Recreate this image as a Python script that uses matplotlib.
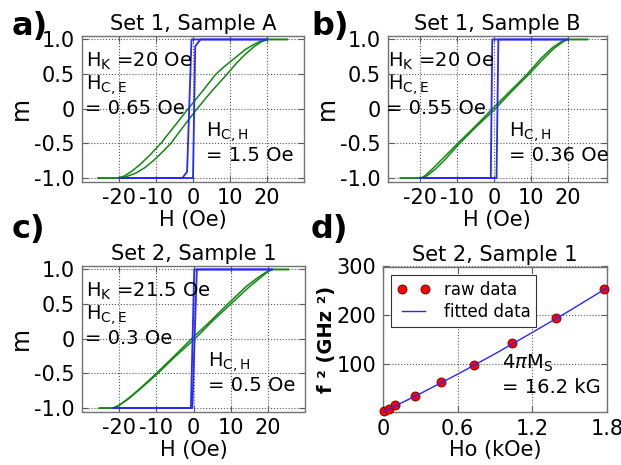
import matplotlib
matplotlib.use("Agg")
import matplotlib.pyplot as plt

plt.rcParams['font.family'] = ['DejaVu Sans']
plt.rcParams['mathtext.fontset'] = 'dejavusans'

# ---------------- data ----------------
titles = ["Set 1, Sample A", "Set 1, Sample B", "Set 2, Sample 1", "Set 2, Sample 1"]
panel_labels = ["a)", "b)", "c)", "d)"]

# Panel a (hard axis loop: green, easy axis loop: blue)
a_green_dn_H = [25.5, 20.3, 18.5, 16.5, 14.0, 11.5, 8.7, 6.2, 2.5, -1.3, -5.0, -8.7, -11.5, -14.0, -16.5, -18.5, -20.3, -25.6]
a_green_dn_m = [1.0, 1.0, 0.98, 0.93, 0.85, 0.74, 0.62, 0.5, 0.25, 0.0, -0.25, -0.5, -0.66, -0.79, -0.9, -0.97, -1.0, -1.0]
a_green_up_H = [-25.6, -20.3, -18.0, -15.5, -13.0, -10.5, -8.2, -6.0, -2.5, 1.1, 5.0, 9.2, 11.8, 14.2, 16.6, 18.6, 20.3, 25.5]
a_green_up_m = [-1.0, -1.0, -0.98, -0.93, -0.85, -0.74, -0.62, -0.5, -0.25, 0.0, 0.25, 0.5, 0.66, 0.79, 0.9, 0.97, 1.0, 1.0]
a_blue_dn_H = [20.0, -0.4, -1.6, -2.9, -20.0]
a_blue_dn_m = [1.0, 1.0, -0.91, -1.0, -1.0]
a_blue_up_H = [-20.0, 0.0, 0.6, 2.0, 20.0]
a_blue_up_m = [-1.0, -1.0, 0.9, 1.0, 1.0]

# Panel b
b_green_dn_H = [25.3, 19.8, 18.3, 15.8, 12.8, 9.0, 4.3, -0.4, -5.0, -9.8, -13.5, -16.5, -18.5, -19.6, -25.3]
b_green_dn_m = [1.0, 1.0, 0.97, 0.88, 0.73, 0.5, 0.25, 0.0, -0.25, -0.5, -0.7, -0.86, -0.96, -1.0, -1.0]
b_green_up_H = [-25.3, -19.6, -18.2, -15.8, -13.0, -9.3, -4.6, 0.4, 4.8, 9.5, 13.0, 16.0, 18.5, 19.8, 25.3]
b_green_up_m = [-1.0, -1.0, -0.97, -0.87, -0.72, -0.5, -0.25, 0.0, 0.25, 0.5, 0.7, 0.86, 0.96, 1.0, 1.0]
b_blue_dn_H = [20.0, -0.45, -0.85, -20.0]
b_blue_dn_m = [1.0, 1.0, -1.0, -1.0]
b_blue_up_H = [-20.0, 0.7, 1.2, 20.0]
b_blue_up_m = [-1.0, -1.0, 1.0, 1.0]

# Panel c
c_green_dn_H = [25.5, 21.1, 19.5, 17.0, 14.3, 9.2, 4.5, -0.5, -5.2, -10.0, -14.0, -17.5, -20.0, -21.6, -25.3]
c_green_dn_m = [1.0, 1.0, 0.96, 0.87, 0.76, 0.5, 0.25, 0.0, -0.25, -0.5, -0.7, -0.86, -0.96, -1.0, -1.0]
c_green_up_H = [-25.3, -21.6, -20.0, -17.3, -13.8, -9.6, -4.8, 0.4, 5.0, 10.0, 14.8, 17.5, 19.8, 21.1, 25.5]
c_green_up_m = [-1.0, -1.0, -0.96, -0.86, -0.7, -0.5, -0.25, 0.0, 0.25, 0.5, 0.74, 0.86, 0.96, 1.0, 1.0]
c_blue_dn_H = [21.1, 0.2, -0.7, -21.6]
c_blue_dn_m = [1.0, 1.0, -1.0, -1.0]
c_blue_up_H = [-21.6, -0.3, 0.9, 21.1]
c_blue_up_m = [-1.0, -1.0, 1.0, 1.0]

# Panel d (FMR Kittel data)
d_raw_H = [0.01, 0.045, 0.099, 0.254, 0.466, 0.729, 1.037, 1.393, 1.773]
d_raw_f2 = [2.0, 7.0, 15.0, 34.0, 62.0, 97.5, 142.0, 194.0, 254.0]
d_fit_H = [0.0, 0.3, 0.6, 0.9, 1.2, 1.5, 1.8]
d_fit_f2 = [0.0, 38.0, 78.0, 120.0, 164.0, 209.0, 256.0]

m_ticks = [-1.0, -0.5, 0.0, 0.5, 1.0]
m_ticklabels = ["-1.0", "-0.5", "0", "0.5", "1.0"]
H_ticks = [-20, -10, 0, 10, 20]
H_ticklabels = ["-20", "-10", "0", "10", "20"]
d_xticks = [0, 0.6, 1.2, 1.8]
d_xticklabels = ["0", "0.6", "1.2", "1.8"]
d_yticks = [100, 200, 300]
d_yticklabels = ["100", "200", "300"]

ann_hk = ["H$_\\mathregular{K}$ =20 Oe", "H$_\\mathregular{K}$ =20 Oe", "H$_\\mathregular{K}$ =21.5 Oe"]
ann_hce = ["= 0.65 Oe", "= 0.55 Oe", "= 0.3 Oe"]
ann_hch = ["= 1.5 Oe", "= 0.36 Oe", "= 0.5 Oe"]

# ---------------- figure ----------------
W, H = 621, 465
fig = plt.figure(figsize=(W / 100, H / 100), dpi=100)

def rect(l, r, t, b):
    return [l / W, 1 - b / H, (r - l) / W, (b - t) / H]

ax_a = fig.add_axes(rect(82, 304, 36, 181.5))
ax_b = fig.add_axes(rect(387.5, 607, 36, 181.5))
ax_c = fig.add_axes(rect(82, 305, 266, 411.5))
ax_d = fig.add_axes(rect(383, 607, 266.5, 412))

GREEN = '#118811'
BLUE = '#2828ff'
TICK_FS = 15
LBL_FS = 15
ANN_FS = 14

def style(ax):
    for s in ax.spines.values():
        s.set_color('0.45')
        s.set_linewidth(1.0)
    ax.tick_params(direction='in', top=True, right=True, length=4, width=0.8,
                   color='0.35', labelsize=TICK_FS, pad=5)
    ax.grid(True, linestyle=':', color='0.35', linewidth=0.8)
    ax.set_axisbelow(True)

loops = [
    (ax_a, (a_green_dn_H, a_green_dn_m, a_green_up_H, a_green_up_m),
     (a_blue_dn_H, a_blue_dn_m, a_blue_up_H, a_blue_up_m), (-30, 30), 3.5),
    (ax_b, (b_green_dn_H, b_green_dn_m, b_green_up_H, b_green_up_m),
     (b_blue_dn_H, b_blue_dn_m, b_blue_up_H, b_blue_up_m), (-28.8, 30.6), 4.0),
    (ax_c, (c_green_dn_H, c_green_dn_m, c_green_up_H, c_green_up_m),
     (c_blue_dn_H, c_blue_dn_m, c_blue_up_H, c_blue_up_m), (-30, 30), 4.0),
]

for i, (ax, g, bl, xl, xch) in enumerate(loops):
    style(ax)
    ax.plot(g[0], g[1], color=GREEN, lw=1.1)
    ax.plot(g[2], g[3], color=GREEN, lw=1.1)
    ax.plot(bl[0], bl[1], color=BLUE, lw=1.3)
    ax.plot(bl[2], bl[3], color=BLUE, lw=1.3)
    ax.set_xlim(*xl)
    ax.set_ylim(-1.05, 1.05)
    ax.set_xticks(H_ticks)
    ax.set_xticklabels(H_ticklabels)
    ax.set_yticks(m_ticks)
    ax.set_yticklabels(m_ticklabels)
    ax.set_xlabel("H (Oe)", fontsize=LBL_FS, labelpad=1)
    ax.set_ylabel("m", fontsize=LBL_FS + 2, labelpad=1)
    ax.set_title(titles[i], fontsize=LBL_FS, pad=4)
    ax.text(-28.8, 0.61, ann_hk[i], fontsize=ANN_FS, va='baseline', ha='left')
    ax.text(-28.8, 0.27, "H$_\\mathregular{C,E}$", fontsize=ANN_FS, va='baseline', ha='left')
    ax.text(-29.3, -0.075, ann_hce[i], fontsize=ANN_FS, va='baseline', ha='left')
    ax.text(xch, -0.41, "H$_\\mathregular{C,H}$", fontsize=ANN_FS, va='baseline', ha='left')
    ax.text(xch, -0.76, ann_hch[i], fontsize=ANN_FS, va='baseline', ha='left')

# panel d
style(ax_d)
ax_d.plot(d_raw_H, d_raw_f2, 'o', color='red', markeredgecolor='#660000',
          markeredgewidth=0.6, markersize=6.5, label='raw data', clip_on=False, zorder=3)
ax_d.plot(d_fit_H, d_fit_f2, '-', color=BLUE, lw=1.0, label='fitted data', zorder=4)
ax_d.set_xlim(0, 1.8)
ax_d.set_ylim(0, 300)
ax_d.set_xticks(d_xticks)
ax_d.set_xticklabels(d_xticklabels)
ax_d.set_yticks(d_yticks)
ax_d.set_yticklabels(d_yticklabels)
ax_d.set_xlabel("Ho (kOe)", fontsize=LBL_FS, labelpad=1)
ax_d.set_ylabel("f ² (GHz ²)", fontsize=14, fontweight='bold', labelpad=0)
ax_d.set_title(titles[3], fontsize=LBL_FS, pad=4)
ax_d.text(0.954, 89, "4$\\pi$M$_\\mathregular{S}$", fontsize=ANN_FS, va='baseline', ha='left')
ax_d.text(0.96, 40, "= 16.2 kG", fontsize=ANN_FS, va='baseline', ha='left')
leg = ax_d.legend(loc='upper left', numpoints=2, fontsize=12, fancybox=False,
                  framealpha=1, edgecolor='0.2', borderaxespad=0.5,
                  handlelength=2.0, borderpad=0.35, labelspacing=0.25)
leg.get_frame().set_linewidth(0.8)

# panel letters
letter_pos = [(12, 35), (311, 35), (12, 238), (311, 238)]
for lab, (x, y) in zip(panel_labels, letter_pos):
    fig.text(x / W, 1 - y / H, lab, fontsize=23, fontweight='bold', va='baseline', ha='left')

fig.savefig("out.png", dpi=100)
